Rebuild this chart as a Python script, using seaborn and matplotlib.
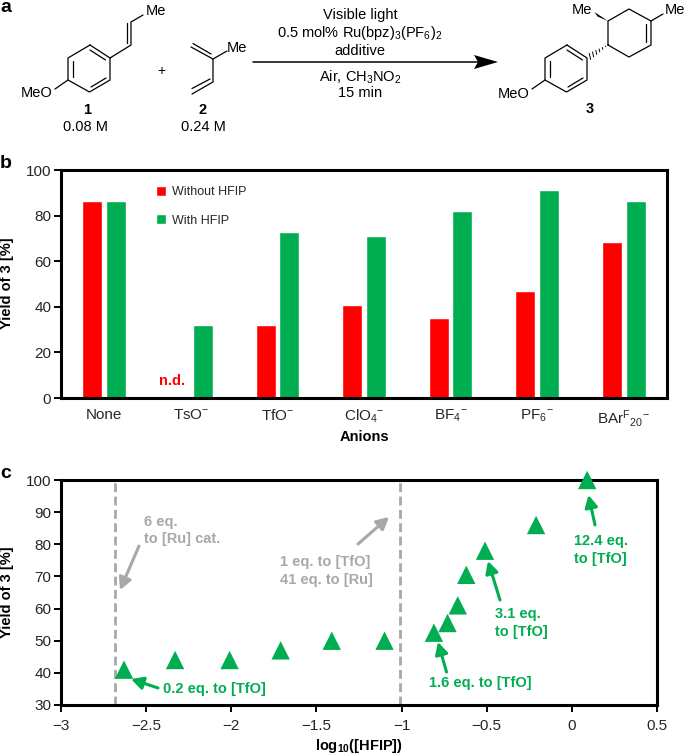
import numpy as np
import pandas as pd
import matplotlib
matplotlib.use("Agg")
import matplotlib.pyplot as plt
import seaborn as sns
from matplotlib.patches import Polygon, FancyArrowPatch

anions = ["None", "TsO$^{-}$", "TfO$^{-}$", "ClO$_4$$^{-}$", "BF$_4$$^{-}$", "PF$_6$$^{-}$", "BAr$^{F}$$_{20}$$^{-}$"]
without_hfip = [86.5, 0, 32, 41, 35, 47, 68.5]
with_hfip = [86.5, 32, 73, 71, 82, 91.2, 86.5]

log_hfip = [-2.63, -2.33, -2.01, -1.71, -1.41, -1.10, -0.81, -0.73, -0.67, -0.62, -0.51, -0.21, 0.09]
yield_c = [41, 44, 44, 47, 50, 50, 52.5, 55.5, 61, 70.5, 78, 86, 100]
guide_lines = [-2.68, -1.01]

RED = "#FF0000"
GREEN = "#00AD50"
GRAY = "#A8A8A8"

sns.set_theme(style="ticks")
plt.rcParams["font.family"] = ["Liberation Sans", "DejaVu Sans"]
plt.rcParams["mathtext.fontset"] = "custom"
plt.rcParams["mathtext.rm"] = "Liberation Sans"
plt.rcParams["mathtext.bf"] = "Liberation Sans:bold"
plt.rcParams["mathtext.default"] = "regular"

W, H = 685, 755
fig = plt.figure(figsize=(W / 100, H / 100), dpi=100)
fs = 10.5
tick_fs = 11


def make_axes(x0, x1, y0, y1):
    return fig.add_axes([x0 / W, 1 - y1 / H, (x1 - x0) / W, (y1 - y0) / H])


# panel b
ax_b = make_axes(61, 667, 170, 398)
df_b = pd.DataFrame({
    "anion": anions * 2,
    "yield": without_hfip + with_hfip,
    "group": ["Without HFIP"] * 7 + ["With HFIP"] * 7,
})
sns.barplot(data=df_b, x="anion", y="yield", hue="group", palette=[RED, GREEN],
            width=0.55, gap=0.16, saturation=1, ax=ax_b)
ax_b.set_xlim(-0.5, 6.5)
ax_b.set_ylim(0, 100)
ax_b.set_xlabel("")
ax_b.set_ylabel("")
ax_b.tick_params(axis="y", length=5, width=1.4, labelsize=tick_fs, pad=2, color="black")
ax_b.tick_params(axis="x", length=0, labelsize=tick_fs, pad=7)
ax_b.legend(loc="upper left", bbox_to_anchor=(0.156, 0.93), frameon=False, fontsize=9,
            handlelength=0.8, handleheight=0.9, handletextpad=0.55, labelspacing=1.25,
            borderpad=0, borderaxespad=0)

# panel c
ax_c = make_axes(61, 657, 480, 705)
df_c = pd.DataFrame({"log_hfip": log_hfip, "yield": yield_c})
for g in guide_lines:
    ax_c.axvline(g, color=GRAY, lw=2, ls=(0, (3.2, 1.6)), zorder=1)
sns.scatterplot(data=df_c, x="log_hfip", y="yield", marker="^", s=175, color=GREEN,
                edgecolor="none", clip_on=False, zorder=5, ax=ax_c)
ax_c.set_xlim(-3, 0.5)
ax_c.set_ylim(30, 100)
ax_c.set_xticks(np.arange(-3, 0.51, 0.5))
ax_c.set_xticklabels(["\u22123", "\u22122.5", "\u22122", "\u22121.5", "\u22121", "\u22120.5", "0", "0.5"])
ax_c.set_yticks(range(30, 101, 10))
ax_c.set_xlabel("")
ax_c.set_ylabel("")
ax_c.tick_params(axis="both", length=5, width=1.4, labelsize=tick_fs, pad=2, color="black")
ax_c.tick_params(axis="x", pad=5)

for ax in (ax_b, ax_c):
    for s in ax.spines.values():
        s.set_linewidth(2.2)
        s.set_color("black")

# overlay in pixel coordinates for the scheme, labels and annotations
ov = fig.add_axes([0, 0, 1, 1], facecolor="none", zorder=10)
ov.set_xlim(0, W)
ov.set_ylim(H, 0)
ov.axis("off")


def txt(x, y, s, color="black", ha="center", weight="normal", size=fs, rot=0):
    ov.text(x, y, s, color=color, ha=ha, va="center", fontweight=weight, fontsize=size, rotation=rot)


def bonds(pts, lw=0.9):
    xs, ys = zip(*pts)
    ov.plot(xs, ys, color="black", lw=lw, solid_capstyle="round", solid_joinstyle="round")


def arrow(p0, p1, color, lw=2.2, head=9):
    ov.add_patch(FancyArrowPatch(p0, p1, color=color, lw=lw, mutation_scale=head,
                                 arrowstyle="-|>,head_length=0.8,head_width=0.42",
                                 shrinkA=0, shrinkB=0))


def benzene(dx):
    top, rt, rb, bot, lb, lt = [(90 + dx, 45), (110 + dx, 58), (110 + dx, 80),
                                (89.5 + dx, 92), (68 + dx, 80), (68 + dx, 58)]
    bonds([top, rt, rb, bot, lb, lt, top])
    # inner double bonds
    bonds([(73 + dx, 61), (73 + dx, 77)])
    bonds([(90 + dx, 50), (105.5 + dx, 60)])
    bonds([(91 + dx, 87), (106 + dx, 78)])
    bonds([lb, (55 + dx, 89)])


# panel letters
txt(6, 7, "a", weight="bold", size=14)
txt(6, 163, "b", weight="bold", size=14)
txt(6, 474, "c", weight="bold", size=14)

# substrate 1
benzene(0)
bonds([(110, 58), (131, 45), (131, 22), (143, 15)])
bonds([(127, 43), (127, 23)])
txt(156, 11, "Me")
txt(37, 93, "MeO")
txt(87, 110, "1", weight="bold")
txt(86, 127, "0.08 M")

txt(161, 71, "+", size=10)

# diene 2
bonds([(191, 47), (213, 59), (213, 82), (192, 94)])
bonds([(193, 43.5), (211, 54)])
bonds([(192, 88.5), (210, 79)])
bonds([(213, 59), (227, 51)])
txt(237, 48, "Me")
txt(203, 110, "2", weight="bold")
txt(203, 127, "0.24 M")

# conditions
txt(360, 15, "Visible light")
txt(360, 33, "0.5 mol% Ru(bpz)$_3$(PF$_6$)$_2$")
txt(360, 51, "additive")
txt(360, 77, "Air, CH$_3$NO$_2$")
txt(360, 93, "15 min")
bonds([(253, 62), (480, 62)], lw=1.1)
ov.add_patch(Polygon([(474, 55), (498, 62), (474, 69), (478, 62)], color="black", lw=0))

# product 3
benzene(477)
bonds([(608, 45), (608, 21), (629, 9), (651, 21), (651, 45), (629, 57), (608, 45)])
bonds([(646, 24), (646, 42)])
bonds([(651, 21), (663, 14)])
ov.add_patch(Polygon([(608, 21), (594.5, 12), (597.5, 16.5)], color="black", lw=0))
for f in np.linspace(0.12, 0.95, 6):
    hx, hy = 608 - 19 * f, 45 + 12 * f
    ov.plot([hx - 0.7 * f, hx + 0.7 * f], [hy - 3.2 * f, hy + 3.2 * f], color="black", lw=0.7)
txt(582, 10, "Me")
txt(675, 10, "Me")
txt(514, 94, "MeO")
txt(590, 109, "3", weight="bold")

# axis titles
txt(7.5, 283, "Yield of 3 [%]", weight="bold", rot=90, size=10.5)
txt(364, 437, "Anions", weight="bold")
txt(7.5, 592, "Yield of 3 [%]", weight="bold", rot=90, size=10.5)
txt(359, 746, r"$\mathbf{log_{10}}$$\mathbf{([HFIP])}$", weight="bold")

txt(172.5, 381, "n.d.", color=RED, weight="bold")

# panel c notes
txt(144, 522, "6 eq.", color=GRAY, ha="left", weight="bold")
txt(144, 539, "to [Ru] cat.", color=GRAY, ha="left", weight="bold")
txt(280, 562, "1 eq. to [TfO]", color=GRAY, ha="left", weight="bold")
txt(280, 580, "41 eq. to [Ru]", color=GRAY, ha="left", weight="bold")
arrow((139, 546), (120, 590), GRAY)
arrow((358, 544), (389, 517), GRAY)

txt(163, 689, "0.2 eq. to [TfO]", color=GREEN, ha="left", weight="bold")
txt(429, 683, "1.6 eq. to [TfO]", color=GREEN, ha="left", weight="bold")
txt(495, 614, "3.1 eq.", color=GREEN, ha="left", weight="bold")
txt(495, 632, "to [TfO]", color=GREEN, ha="left", weight="bold")
txt(574.5, 541, "12.4 eq.", color=GREEN, ha="left", weight="bold")
txt(574.5, 559, "to [TfO]", color=GREEN, ha="left", weight="bold")
arrow((158, 688), (131, 679), GREEN)
arrow((446.5, 672), (438, 642), GREEN)
arrow((500, 600), (488, 561), GREEN)
arrow((595, 525), (588.5, 495), GREEN)

fig.savefig("out.png", dpi=100)
